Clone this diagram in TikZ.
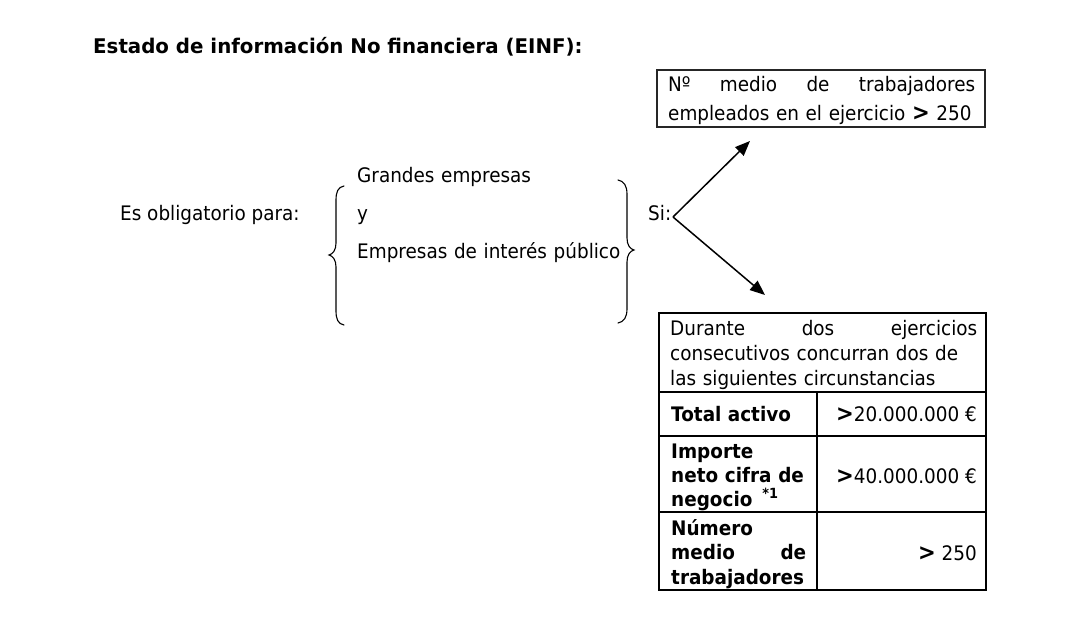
\documentclass[tikz,border=0pt]{standalone}
\usepackage{fontspec}
\setmainfont{DejaVu Sans}[FakeStretch=0.92]
\newfontfamily\titlefont{DejaVu Sans}[FakeStretch=0.98]
\usetikzlibrary{arrows.meta}
\newcommand\gtsym{{\fontsize{23}{23}\selectfont\bfseries >}}
\begin{document}
\begin{tikzpicture}[x=1pt,y=-1pt,
  txt/.style={inner sep=0pt, anchor=base west, font=\fontsize{20}{25}\selectfont},
  val/.style={inner sep=0pt, anchor=base east, font=\fontsize{20}{25}\selectfont},
  brace/.style={line width=1.1pt, line cap=round},
  conn/.style={line width=1.5pt, -{Triangle[length=15pt,width=12pt]}},
  boxline/.style={line width=1.3pt, draw=black!85},
  tbl/.style={line width=2pt}]
\useasboundingbox (0,0) rectangle (1070,628);
% title
\node[txt, font=\titlefont\fontsize{20.2}{25}\selectfont\bfseries] (title) at (93,54) {Estado de información No financiera (EINF):};
% left part
\node[txt] (obl) at (120,221) {Es obligatorio para:};
\node[txt, text width=280pt, align=left, font=\fontsize{20}{38}\selectfont] (emp) at (357,183) {Grandes empresas\\y\\Empresas de interés público};
\node[txt] (si) at (648,221) {Si:};
% braces
\draw[brace] (344,186) .. controls (338,187) and (336,192) .. (336,200)
  -- (336,243) .. controls (336,250) and (333,254) .. (329,255)
  .. controls (333,256) and (336,260) .. (336,267)
  -- (336,311) .. controls (336,319) and (338,324) .. (344,325);
\draw[brace] (618,180) .. controls (624,181) and (627,186) .. (627,194)
  -- (627,238) .. controls (627,245) and (630,249) .. (634,250)
  .. controls (630,251) and (627,255) .. (627,262)
  -- (627,309) .. controls (627,317) and (624,322) .. (618,323);
% arrows
\coordinate (v) at (673,217);
\coordinate (up) at (750,141);
\coordinate (dn) at (765,295);
\draw[conn] (v) -- (up);
\draw[conn] (v) -- (dn);
% top box
\draw[boxline] (657,70) rectangle (985,127);
\node[txt, text width=307pt, align=left, font=\fontsize{20}{29}\selectfont] (tb) at (668,92)
  {Nº\hfill medio\hfill de\hfill trabajadores\\empleados en el ejercicio \gtsym\ 250};
% table
\draw[tbl] (659,313) rectangle (986,590);
\draw[tbl] (659,392) -- (986,392);
\draw[tbl] (659,436) -- (986,436);
\draw[tbl] (659,512) -- (986,512);
\draw[tbl] (817,392) -- (817,590);
\node[txt, text width=307pt, align=left, font=\fontsize{20}{25}\selectfont] (hdr) at (670,335)
  {Durante\hfill dos\hfill ejercicios\\consecutivos concurran dos de\\las siguientes circunstancias};
\node[txt, font=\fontsize{20}{25}\selectfont\bfseries] (ta) at (671,421) {Total activo};
\node[val] (tav) at (977,421) {\gtsym20.000.000 €};
\node[txt, text width=140pt, align=left, font=\fontsize{20}{24}\selectfont\bfseries] (inc) at (671,458)
  {Importe\\neto cifra de\\negocio \,\textsuperscript{*1}};
\node[val] (incv) at (977,483) {\gtsym40.000.000 €};
\node[txt, text width=135pt, align=left, font=\fontsize{20}{24.5}\selectfont\bfseries] (nmt) at (671,535)
  {Número\\medio\hfill de\\trabajadores};
\node[val] (nmtv) at (977,560) {\gtsym\ 250};
\end{tikzpicture}
\end{document}
